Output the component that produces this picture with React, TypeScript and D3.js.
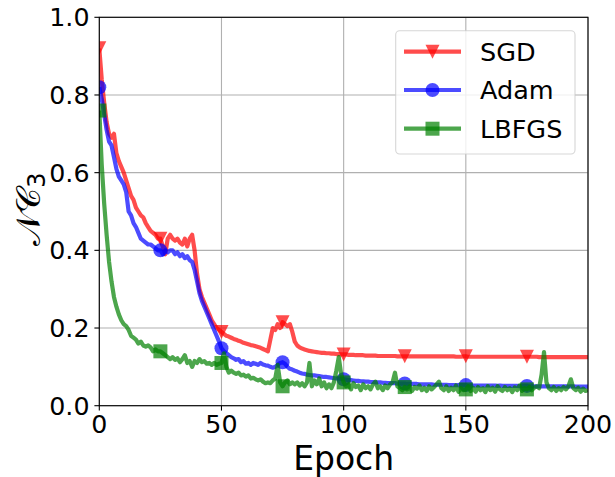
import React from "react";
import * as d3 from "d3";

const W = 615;
const H = 477;

const xTicks = [0, 50, 100, 150, 200];
const yTicks = [0, 0.2, 0.4, 0.6, 0.8, 1.0];
const seriesNames = ["SGD", "Adam", "LBFGS"];

const sgd = [
  0.92, 0.84, 0.78, 0.73, 0.70, 0.69, 0.70, 0.65, 0.63, 0.615,
  0.60, 0.58, 0.56, 0.54, 0.53, 0.51, 0.50, 0.49, 0.485, 0.47,
  0.46, 0.45, 0.445, 0.44, 0.43, 0.43, 0.41, 0.39, 0.43, 0.44,
  0.43, 0.425, 0.43, 0.42, 0.415, 0.43, 0.41, 0.43, 0.44, 0.40,
  0.34, 0.30, 0.28, 0.265, 0.25, 0.235, 0.22, 0.21, 0.20, 0.195,
  0.19, 0.185, 0.18, 0.178, 0.175, 0.172, 0.17, 0.167, 0.165, 0.162,
  0.16, 0.158, 0.156, 0.155, 0.153, 0.151, 0.149, 0.146, 0.143, 0.14,
  0.17, 0.20, 0.195, 0.21, 0.20, 0.215, 0.21, 0.205, 0.21, 0.19,
  0.165, 0.155, 0.15, 0.147, 0.145, 0.143, 0.141, 0.14, 0.139, 0.138,
  0.137, 0.136, 0.136, 0.135, 0.135, 0.134, 0.134, 0.133, 0.133, 0.132,
  0.132, 0.132, 0.131, 0.131, 0.131, 0.13, 0.13, 0.13, 0.13, 0.129,
  0.129, 0.129, 0.129, 0.129, 0.128, 0.128, 0.128, 0.128, 0.128, 0.128,
  0.128, 0.128, 0.127, 0.127, 0.127, 0.127, 0.127, 0.127, 0.127, 0.127,
  0.127, 0.127, 0.127, 0.127, 0.127, 0.127, 0.127, 0.127, 0.127, 0.127,
  0.127, 0.127, 0.127, 0.127, 0.127, 0.127, 0.126, 0.126, 0.126, 0.127,
  0.127, 0.126, 0.126, 0.126, 0.126, 0.126, 0.126, 0.126, 0.126, 0.126,
  0.126, 0.126, 0.126, 0.126, 0.126, 0.126, 0.126, 0.126, 0.126, 0.126,
  0.126, 0.126, 0.126, 0.126, 0.126, 0.126, 0.126, 0.126, 0.126, 0.126,
  0.125, 0.125, 0.125, 0.125, 0.125, 0.125, 0.125, 0.125, 0.125, 0.125,
  0.125, 0.125, 0.125, 0.125, 0.125, 0.125, 0.125, 0.125, 0.125, 0.125,
  0.125,
];

const adam = [
  0.82, 0.79, 0.75, 0.71, 0.68, 0.67, 0.64, 0.61, 0.59, 0.58,
  0.57, 0.55, 0.50, 0.49, 0.47, 0.46, 0.445, 0.43, 0.425, 0.42,
  0.415, 0.415, 0.41, 0.405, 0.40, 0.40, 0.39, 0.40, 0.395, 0.40,
  0.40, 0.39, 0.395, 0.385, 0.39, 0.38, 0.385, 0.375, 0.37, 0.35,
  0.32, 0.29, 0.27, 0.255, 0.24, 0.225, 0.21, 0.195, 0.18, 0.165,
  0.148, 0.14, 0.135, 0.13, 0.125, 0.122, 0.118, 0.12, 0.112, 0.115,
  0.108, 0.11, 0.105, 0.11, 0.108, 0.105, 0.11, 0.106, 0.104, 0.103,
  0.10, 0.098, 0.10, 0.105, 0.11, 0.112, 0.108, 0.10, 0.095, 0.093,
  0.09, 0.088, 0.085, 0.083, 0.082, 0.08, 0.079, 0.078, 0.078, 0.077,
  0.076, 0.075, 0.074, 0.074, 0.073, 0.072, 0.071, 0.07, 0.07, 0.069,
  0.068, 0.067, 0.066, 0.066, 0.065, 0.064, 0.064, 0.063, 0.063, 0.062,
  0.062, 0.061, 0.061, 0.06, 0.06, 0.06, 0.059, 0.059, 0.058, 0.058,
  0.058, 0.058, 0.057, 0.057, 0.057, 0.057, 0.056, 0.056, 0.056, 0.056,
  0.056, 0.055, 0.055, 0.055, 0.055, 0.055, 0.055, 0.054, 0.054, 0.054,
  0.054, 0.054, 0.054, 0.053, 0.053, 0.053, 0.053, 0.053, 0.053, 0.053,
  0.053, 0.052, 0.052, 0.052, 0.052, 0.052, 0.052, 0.052, 0.052, 0.052,
  0.052, 0.052, 0.052, 0.051, 0.052, 0.051, 0.051, 0.051, 0.051, 0.051,
  0.051, 0.051, 0.05, 0.051, 0.051, 0.051, 0.05, 0.05, 0.05, 0.05,
  0.05, 0.05, 0.05, 0.05, 0.05, 0.05, 0.05, 0.05, 0.05, 0.05,
  0.05, 0.05, 0.049, 0.05, 0.05, 0.049, 0.049, 0.049, 0.049, 0.049,
  0.049,
];

const lbfgs = [
  0.76, 0.62, 0.52, 0.44, 0.37, 0.32, 0.28, 0.255, 0.235, 0.22,
  0.21, 0.205, 0.195, 0.18, 0.175, 0.17, 0.16, 0.165, 0.155, 0.152,
  0.155, 0.15, 0.14, 0.145, 0.14, 0.14, 0.135, 0.13, 0.125, 0.12,
  0.125, 0.118, 0.122, 0.112, 0.12, 0.13, 0.11, 0.115, 0.10, 0.115,
  0.11, 0.12, 0.112, 0.115, 0.108, 0.11, 0.105, 0.11, 0.105, 0.108,
  0.11, 0.135, 0.10, 0.085, 0.09, 0.085, 0.082, 0.085, 0.078, 0.08,
  0.075, 0.078, 0.07, 0.072, 0.068, 0.065, 0.068, 0.062, 0.058, 0.06,
  0.058, 0.065, 0.07, 0.105, 0.06, 0.05, 0.06, 0.065, 0.055, 0.06,
  0.055, 0.06, 0.052, 0.058, 0.05, 0.06, 0.11, 0.05, 0.065, 0.055,
  0.07, 0.05, 0.06, 0.045, 0.055, 0.045, 0.06, 0.09, 0.125, 0.08,
  0.06, 0.05, 0.055, 0.042, 0.058, 0.048, 0.052, 0.04, 0.055, 0.045,
  0.05, 0.042, 0.055, 0.062, 0.045, 0.05, 0.04, 0.052, 0.045, 0.055,
  0.06, 0.085, 0.05, 0.045, 0.04, 0.048, 0.042, 0.05, 0.038, 0.048,
  0.044, 0.052, 0.04, 0.046, 0.038, 0.05, 0.042, 0.048, 0.055, 0.062,
  0.045, 0.04, 0.05, 0.038, 0.046, 0.04, 0.052, 0.036, 0.045, 0.04,
  0.042, 0.05, 0.038, 0.046, 0.036, 0.048, 0.04, 0.045, 0.035, 0.05,
  0.04, 0.046, 0.036, 0.05, 0.042, 0.038, 0.048, 0.04, 0.045, 0.035,
  0.047, 0.04, 0.052, 0.038, 0.045, 0.042, 0.048, 0.04, 0.046, 0.05,
  0.045, 0.08, 0.138, 0.06, 0.045, 0.04, 0.048, 0.038, 0.045, 0.04,
  0.048, 0.042, 0.05, 0.068, 0.045, 0.04, 0.046, 0.036, 0.044, 0.038,
  0.04,
];

const COLORS = ["#ff0000", "#0000ff", "#008000"];
const MARKERS = ["tri", "circle", "square"];
const MARK_EVERY = 25;
const FONT = "'DejaVu Sans', sans-serif";

const L = 99.3, R = 588, T = 17.3, B = 405.7;

function Marker({ kind, x, y, color, s }: { kind: string; x: number; y: number; color: string; s: number }) {
  const h = s / 2;
  if (kind === "tri") {
    return <path d={`M${x - h},${y - h}L${x + h},${y - h}L${x},${y + h}Z`} fill={color} fillOpacity={0.7} />;
  }
  if (kind === "circle") {
    return <circle cx={x} cy={y} r={h} fill={color} fillOpacity={0.7} />;
  }
  return <rect x={x - h} y={y - h} width={s} height={s} fill={color} fillOpacity={0.7} />;
}

export default function App() {
  const x = d3.scaleLinear().domain([0, 200]).range([L, R]);
  const y = d3.scaleLinear().domain([0, 1]).range([B, T]);
  const series = [sgd, adam, lbfgs];
  const line = d3
    .line<number>()
    .x((_, i) => x(i))
    .y((d) => y(d));
  const ms = 14;
  const legendRows = [51.7, 90, 128.7];

  return (
    <svg width={W} height={H} style={{ position: "absolute", left: 0, top: 0, background: "#fff" }}>
      <defs>
        <clipPath id="plotclip">
          <rect x={L} y={T} width={R - L} height={B - T} />
        </clipPath>
      </defs>
      <rect x={0} y={0} width={W} height={H} fill="#fff" />
      {xTicks.map((t) => (
        <line key={"gx" + t} x1={x(t)} x2={x(t)} y1={T} y2={B} stroke="#b0b0b0" strokeWidth={1.1} />
      ))}
      {yTicks.map((t) => (
        <line key={"gy" + t} x1={L} x2={R} y1={y(t)} y2={y(t)} stroke="#b0b0b0" strokeWidth={1.1} />
      ))}
      <g clipPath="url(#plotclip)">
        {series.map((s, si) => (
          <g key={si}>
            <path
              d={line(s) || ""}
              fill="none"
              stroke={COLORS[si]}
              strokeOpacity={0.7}
              strokeWidth={4.2}
              strokeLinejoin="round"
              strokeLinecap="butt"
            />
            {s.map((v, i) =>
              i % MARK_EVERY === 0 && i < 200 ? (
                <Marker key={i} kind={MARKERS[si]} x={x(i)} y={y(v)} color={COLORS[si]} s={ms} />
              ) : null
            )}
          </g>
        ))}
      </g>
      <rect x={L} y={T} width={R - L} height={B - T} fill="none" stroke="#000" strokeWidth={1.1} />
      {xTicks.map((t) => (
        <g key={"tx" + t}>
          <line x1={x(t)} x2={x(t)} y1={B} y2={B + 4.9} stroke="#000" strokeWidth={1.1} />
          <text x={x(t)} y={B + 9.8} dy="0.7em" textAnchor="middle" fontFamily={FONT} fontSize={25.3} fill="#000">
            {t}
          </text>
        </g>
      ))}
      {yTicks.map((t) => (
        <g key={"ty" + t}>
          <line x1={L - 4.9} x2={L} y1={y(t)} y2={y(t)} stroke="#000" strokeWidth={1.1} />
          <text x={L - 9.8} y={y(t)} dy="0.36em" textAnchor="end" fontFamily={FONT} fontSize={25.3} fill="#000">
            {t.toFixed(1)}
          </text>
        </g>
      ))}
      <text x={(L + R) / 2} y={470} textAnchor="middle" fontFamily={FONT} fontSize={33} fill="#000">
        Epoch
      </text>
      <g transform="translate(40,209) rotate(-90)">
        <text x={0} y={0} textAnchor="middle" fontFamily={FONT} fontSize={34} fill="#000">
          <tspan>𝒩𝒞</tspan>
          <tspan fontSize={24} dy={5}>3</tspan>
        </text>
      </g>
      <g>
        <rect x={395.7} y={30.7} width={179.3} height={123.3} rx={4} ry={4} fill="#fff" fillOpacity={0.8} stroke="#cccccc" strokeOpacity={0.8} strokeWidth={1.1} />
        {seriesNames.map((n, i) => (
          <g key={n}>
            <line x1={404} x2={461} y1={legendRows[i]} y2={legendRows[i]} stroke={COLORS[i]} strokeOpacity={0.7} strokeWidth={4.2} />
            <Marker kind={MARKERS[i]} x={432.5} y={legendRows[i]} color={COLORS[i]} s={ms} />
            <text x={480} y={legendRows[i]} dy="0.36em" fontFamily={FONT} fontSize={25.5} fill="#000">
              {n}
            </text>
          </g>
        ))}
      </g>
    </svg>
  );
}
